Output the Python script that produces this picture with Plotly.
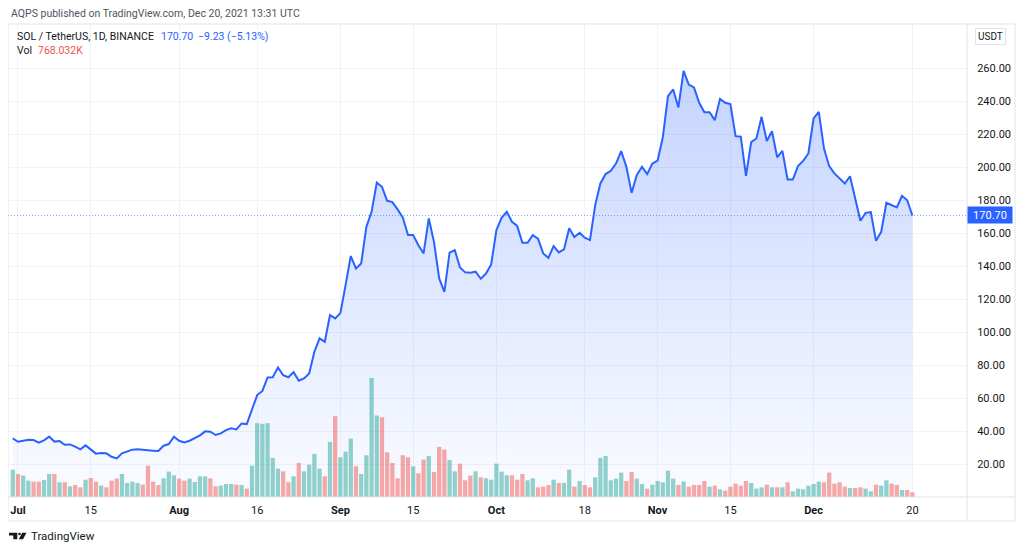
import pandas as pd
import plotly.graph_objects as go

# SOL/USDT daily, Binance, 30 Jun 2021 -> 20 Dec 2021
start_date = "2021-06-30"
end_date = "2021-12-20"

closes = [
    35.5,
    # Jul
    33.5, 34.1, 34.7, 34.5, 32.9, 34.3, 36.6, 33.6, 33.9, 31.7,
    31.9, 30.5, 28.9, 31.3, 28.5, 26.3, 26.7, 26.5, 24.4, 23.4,
    26.5, 27.7, 28.7, 28.9, 28.5, 28.3, 28.1, 27.9, 31.1, 32.1, 36.6,
    # Aug
    34.1, 33.1, 34.1, 35.8, 37.4, 39.8, 39.6, 37.6, 38.6, 40.6,
    41.6, 41.0, 44.6, 44.2, 53.0, 61.8, 64.3, 72.5, 72.6, 78.6,
    73.8, 72.6, 75.7, 70.5, 71.9, 74.9, 88.1, 96.2, 94.1, 110.3, 108.3,
    # Sep
    111.5, 128.5, 146.1, 138.6, 141.6, 163.8, 172.9, 190.7, 188.1, 179.6,
    178.8, 174.4, 169.5, 158.8, 158.8, 152.7, 147.7, 168.9, 154.7, 132.5,
    124.4, 148.2, 149.7, 139.2, 136.2, 136.0, 136.6, 132.3, 135.5, 141.0,
    # Oct
    161.8, 169.3, 172.9, 166.9, 164.4, 154.1, 154.1, 158.8, 156.6, 147.7,
    145.0, 152.1, 148.3, 150.1, 163.0, 157.6, 160.2, 157.2, 155.8, 177.0,
    190.1, 195.8, 197.8, 202.2, 209.7, 200.2, 184.4, 195.2, 200.2, 195.8, 202.2,
    # Nov
    204.0, 218.0, 243.0, 247.1, 236.2, 258.4, 250.1, 248.3, 239.0, 233.3,
    233.3, 228.5, 241.4, 239.0, 238.2, 218.8, 218.5, 194.7, 215.2, 217.4,
    230.5, 215.9, 221.8, 205.9, 209.9, 192.5, 192.5, 200.6, 203.8, 208.3,
    # Dec
    229.5, 233.5, 211.3, 200.6, 196.2, 193.1, 190.1, 194.5, 181.0, 167.5,
    172.3, 172.7, 155.3, 160.8, 178.4, 177.0, 175.6, 182.6, 179.93, 170.70,
]

# volume in millions of SOL
volumes = [
    4.49,
    # Jul
    3.77, 3.50, 2.68, 2.52, 2.52, 2.79, 3.77, 3.77, 2.41, 2.41,
    1.75, 1.97, 1.59, 2.84, 3.12, 2.52, 1.86, 1.59, 2.68, 3.01,
    3.77, 2.30, 2.52, 2.30, 2.02, 5.14, 2.52, 1.97, 3.06, 4.16, 3.56,
    # Aug
    3.01, 2.68, 3.01, 2.46, 3.39, 3.39, 3.06, 1.75, 1.86, 2.13,
    2.13, 2.02, 1.97, 1.37, 5.14, 12.09, 11.98, 12.09, 6.40, 4.65,
    4.21, 2.41, 3.39, 5.58, 4.21, 5.31, 7.06, 4.65, 3.39, 9.03, 13.24,
    # Sep
    6.51, 7.44, 9.57, 5.03, 3.77, 6.84, 19.5, 13.35, 13.07, 7.33,
    5.58, 3.06, 6.84, 6.51, 5.03, 3.88, 6.13, 6.73, 4.10, 8.21,
    7.77, 6.07, 4.21, 5.47, 2.74, 3.50, 4.21, 3.23, 3.06, 2.84,
    # Oct
    5.47, 4.16, 3.56, 3.56, 2.84, 3.77, 2.74, 3.06, 1.59, 1.70,
    1.97, 2.84, 2.30, 2.30, 4.49, 1.70, 2.63, 1.97, 1.59, 3.23,
    6.40, 6.73, 2.74, 3.01, 3.99, 2.63, 4.10, 3.01, 2.13, 1.37, 2.02,
    # Nov
    2.63, 2.41, 4.32, 3.01, 1.97, 2.52, 1.70, 1.97, 1.97, 2.63,
    1.70, 1.86, 1.26, 1.04, 1.70, 2.19, 1.86, 2.63, 2.30, 1.37,
    1.59, 2.02, 1.59, 1.59, 1.59, 2.41, 0.93, 1.37, 1.26, 1.86,
    # Dec
    2.13, 2.52, 2.41, 3.99, 2.19, 2.41, 1.70, 1.48, 1.48, 1.59,
    1.37, 0.93, 2.02, 1.86, 2.74, 2.19, 1.97, 1.15, 1.15, 0.768,
]

tick_dates = ["2021-07-01", "2021-07-15", "2021-08-01", "2021-08-16",
              "2021-09-01", "2021-09-15", "2021-10-01", "2021-10-18",
              "2021-11-01", "2021-11-15", "2021-12-01", "2021-12-20"]
tick_text = ["<b>Jul</b>", "15", "<b>Aug</b>", "16", "<b>Sep</b>", "15",
             "<b>Oct</b>", "18", "<b>Nov</b>", "15", "<b>Dec</b>", "20"]
price_ticks = [20, 40, 60, 80, 100, 120, 140, 160, 180, 200, 220, 240, 260]

last_price = closes[-1]

dates = pd.date_range(start_date, end_date, freq="D")

UP = "rgba(38,166,154,0.5)"
DOWN = "rgba(239,83,80,0.5)"
bar_colors = [UP] + [UP if closes[i] >= closes[i - 1] else DOWN for i in range(1, len(closes))]

# the page body adds an 8px offset, so the figure is drawn 8px smaller and
# all screen positions below are given in screen pixels
OFF = 8
W, H = 1024 - OFF, 552 - OFF
L, R, T, B = 8, 967, 24, 497          # plot area in screen pixels
def px(x):
    return (x - L) / (R - L)
def py(y):
    return (B - y) / (B - T)

fig = go.Figure()

# area fill (price)
fig.add_trace(go.Scatter(
    x=dates, y=closes, mode="lines", line=dict(width=0, color="rgba(0,0,0,0)"),
    fill="tozeroy",
    fillgradient=dict(type="vertical", start=0, stop=286,
                      colorscale=[[0, "rgba(41,98,255,0.02)"], [1, "rgba(41,98,255,0.30)"]]),
    hoverinfo="skip", yaxis="y"))

# volume
fig.add_trace(go.Bar(
    x=dates, y=volumes, marker=dict(color=bar_colors, line=dict(width=0)),
    width=0.82 * 86400000, yaxis="y2", hoverinfo="skip"))

# price line
fig.add_trace(go.Scatter(
    x=dates, y=closes, mode="lines", line=dict(color="#2962ff", width=2),
    yaxis="y3", hoverinfo="skip"))

grid = "#f0f3fa"
border = "#e0e3eb"
yrange = [0, 286.8]

fig.update_layout(
    width=W, height=H,
    margin=dict(l=L - OFF, r=W - (R - OFF), t=T - OFF, b=H - (B - OFF)),
    paper_bgcolor="white", plot_bgcolor="white",
    showlegend=False,
    font=dict(family="Roboto, Arial, sans-serif", size=11, color="#131722"),
    xaxis=dict(type="date", range=["2021-06-29 02:00", "2021-12-30 12:00"],
               tickvals=tick_dates, ticktext=tick_text,
               showgrid=True, gridcolor=grid, gridwidth=1,
               ticks="outside", ticklen=3, tickcolor="rgba(0,0,0,0)",
               showline=False, zeroline=False,
               tickfont=dict(size=11, color="#131722")),
    yaxis=dict(range=yrange, side="right", tickvals=price_ticks,
               tickformat=".2f", showgrid=True, gridcolor=grid,
               ticks="outside", ticklen=7, tickcolor="rgba(0,0,0,0)",
               zeroline=False, showline=False,
               tickfont=dict(size=11, color="#131722")),
    yaxis2=dict(range=[0, 77.5], overlaying="y", visible=False),
    yaxis3=dict(range=yrange, overlaying="y", visible=False),
)

# last price dotted line
fig.add_shape(type="line", xref="paper", yref="y", x0=0, x1=1,
              y0=last_price, y1=last_price,
              line=dict(color="rgba(41,98,255,0.6)", width=1, dash="1px,2px"))

# frame
for x0, y0, x1, y1 in [(L, T, 1015, T), (L, T, L, 521), (L, 521, 1015, 521),
                       (1015, T, 1015, 521), (R, T, R, 521), (L, B, 1015, B)]:
    fig.add_shape(type="line", xref="paper", yref="paper",
                  x0=px(x0), y0=py(y0), x1=px(x1), y1=py(y1),
                  line=dict(color=border, width=1), layer="above")

# last price label on axis
fig.add_annotation(xref="paper", yref="y", x=px(967), y=last_price,
                   xanchor="left", yanchor="middle", showarrow=False,
                   text="%.2f" % last_price, font=dict(size=11, color="white"),
                   bgcolor="#2962ff", width=40, height=12, borderpad=2)

# currency box
fig.add_annotation(xref="paper", yref="paper", x=px(990.5), y=py(37),
                   xanchor="center", yanchor="middle",
                   showarrow=False, text="USDT",
                   font=dict(size=10, color="#131722"),
                   bordercolor=border, borderwidth=1, borderpad=2, bgcolor="white")

# header texts
def label(x, y, text, color, size=10.5):
    fig.add_annotation(xref="paper", yref="paper", x=px(x), y=py(y),
                       xanchor="left", yanchor="middle", showarrow=False,
                       text=text, font=dict(size=size, color=color))

label(9, 14, "AQPS published on TradingView.com, Dec 20, 2021 13:31 UTC", "#50535e")
label(15, 37, "SOL / TetherUS, 1D, BINANCE", "#131722")
label(159, 37, "170.70", "#2962ff")
label(196, 37, "\u22129.23 (\u22125.13%)", "#2962ff")
label(15, 51, "Vol", "#131722")
label(36, 51, "768.032K", "#ef5350")
label(29, 536, "TradingView", "#131722", size=11.5)

# TradingView logo glyph
def path(points):
    return "M " + " L ".join("%f,%f" % (px(x), py(y)) for x, y in points) + " Z"

fig.add_shape(type="path", xref="paper", yref="paper",
              path=path([(9, 532.7), (17.3, 532.7), (17.3, 539.3), (13.3, 539.3),
                         (13.3, 535.6), (9, 535.6)]),
              fillcolor="#131722", line=dict(width=0))
fig.add_shape(type="path", xref="paper", yref="paper",
              path=path([(22.3, 532.7), (26.5, 532.7), (23, 539.3), (18.8, 539.3)]),
              fillcolor="#131722", line=dict(width=0))
fig.add_shape(type="circle", xref="paper", yref="paper",
              x0=px(18.2), x1=px(20.8), y0=py(532.7), y1=py(535.3),
              fillcolor="#131722", line=dict(width=0))

fig.write_html("out.html")
